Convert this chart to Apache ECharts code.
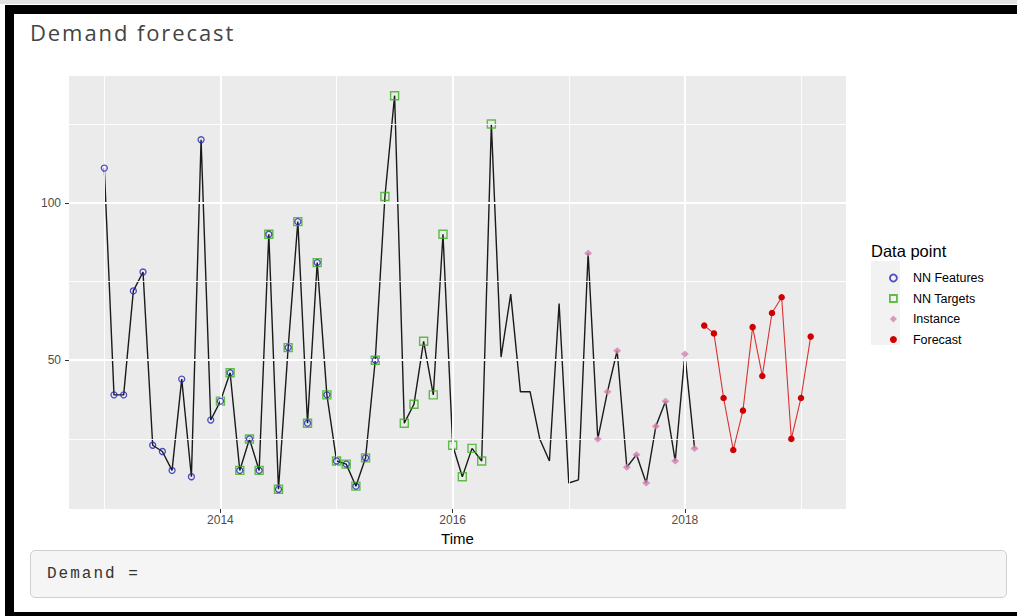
<!DOCTYPE html>
<html>
<head>
<meta charset="utf-8">
<title>Demand forecast</title>
<script src="https://cdn.jsdelivr.net/npm/echarts@6/dist/echarts.min.js"></script>
<style>
  html, body { margin: 0; padding: 0; }
  body { width: 1017px; height: 616px; overflow: hidden; position: relative; background: #fff; }
  .topline { position: absolute; left: 0; top: 0; width: 1017px; height: 4px; background: #e2e2e2; }
  .frame { position: absolute; left: 5px; top: 5px; width: 1100px; height: 611px; box-sizing: border-box;
           border-top: 9px solid #000; border-left: 9px solid #000; border-bottom: 4px solid #000; }
  .title { position: absolute; left: 30px; top: 21px; font-family: "Open Sans", sans-serif; font-size: 22px;
           line-height: 22px; color: #444; letter-spacing: 1.9px; white-space: nowrap; }
  #chart { position: absolute; left: 0; top: 0; width: 1017px; height: 616px; }
  .output { position: absolute; left: 30px; top: 550px; width: 977px; height: 48px; box-sizing: border-box;
            background: #f5f5f5; border: 1px solid #d0d0d0; border-radius: 5px;
            font-family: "Liberation Mono", "DejaVu Sans Mono", monospace; font-size: 16px; letter-spacing: 2px;
            color: #333; line-height: 46px; padding-left: 16px; white-space: pre; }
</style>
</head>
<body>
<div class="topline"></div>
<div class="frame"></div>
<div class="title">Demand forecast</div>
<div id="chart"></div>
<div class="output">Demand =</div>
<script>
// Monthly demand, January 2013 to February 2018
const startYear = 2013;
const demand = [
  111, 39, 39, 72, 78, 23, 21, 15, 44, 13, 120, 31,
  37, 46, 15, 25, 15, 90, 9, 54, 94, 30, 81, 39,
  18, 17, 10, 19, 50, 102, 134, 30, 36, 56, 39, 90,
  23, 13, 22, 18, 125, 51, 71, 40, 40, 25, 18, 68,
  11, 12, 84, 25, 40, 53, 16, 20, 11, 29, 37, 18,
  52, 22
];
// Twelve-month forecast, March 2018 to February 2019
const forecast = [61, 58.5, 38, 21.5, 34, 60.5, 45, 65, 70, 25, 38, 57.5];
const forecastStart = 62;           // month offset of the first forecast value

// Month offsets (inclusive) of each highlighted group
const featureSpan = [0, 28];
const targetSpan = [12, 40];
const instanceSpan = [50, 61];

// Axis ticks and minor grid positions
const xTicks = [2014, 2016, 2018];
const xMinor = [2013, 2015, 2017, 2019];
const yTicks = [50, 100];
const yMinor = [25, 75, 125];

const toYear = m => startYear + m / 12;
const line = demand.map((v, m) => [toYear(m), v]);
const slice = span => line.slice(span[0], span[1] + 1);
const forecastPts = forecast.map((v, i) => [toYear(forecastStart + i), v]);

// ggplot-style 5% expansion of the data range
const allX = line.concat(forecastPts).map(p => p[0]);
const allY = line.concat(forecastPts).map(p => p[1]);
const xLo = Math.min(...allX), xHi = Math.max(...allX);
const yLo = Math.min(...allY), yHi = Math.max(...allY);
const xPad = (xHi - xLo) * 0.05, yPad = (yHi - yLo) * 0.05;

const colors = {
  line: '#1a1a1a',
  feature: '#2222b8',
  target: '#3cae1e',
  instance: '#d47fb0',
  forecast: '#d00000',
  forecastLine: '#dc3030'
};

const gridLine = (axis, values, width) => values.map(v => ({ [axis]: v, lineStyle: { width: width } }));

const chart = echarts.init(document.getElementById('chart'), null, { renderer: 'svg' });
chart.setOption({
  animation: false,
  grid: {
    left: 69, right: 171, top: 76, bottom: 107,
    show: true, backgroundColor: '#ebebeb', borderWidth: 0
  },
  xAxis: {
    type: 'value',
    min: xLo - xPad, max: xHi + xPad,
    name: 'Time', nameLocation: 'middle', nameGap: 20,
    nameTextStyle: { fontFamily: 'Liberation Sans', fontSize: 15, color: '#000' },
    axisLine: { show: false },
    axisTick: { show: true, length: 4, customValues: xTicks, lineStyle: { color: '#333', width: 1 } },
    axisLabel: {
      customValues: xTicks, margin: 5, formatter: v => String(v),
      fontFamily: 'Liberation Sans', fontSize: 12, color: '#4d4d4d'
    },
    splitLine: { show: false }
  },
  yAxis: {
    type: 'value',
    min: yLo - yPad, max: yHi + yPad,
    axisLine: { show: false },
    axisTick: { show: true, length: 4, customValues: yTicks, lineStyle: { color: '#333', width: 1 } },
    axisLabel: {
      customValues: yTicks, margin: 8, formatter: v => String(v),
      fontFamily: 'Liberation Sans', fontSize: 12, color: '#4d4d4d'
    },
    splitLine: { show: false }
  },
  legend: {
    orient: 'vertical', left: 884, top: 266,
    itemWidth: 7, itemHeight: 7, itemGap: 6.5,
    selectedMode: false,
    textStyle: { fontFamily: 'Liberation Sans', fontSize: 12.5, color: '#000', lineHeight: 14, padding: [0, 0, 0, 11] },
    data: [
      { name: 'NN Features', icon: 'circle', itemStyle: { color: 'rgba(0,0,0,0)', borderColor: colors.feature, borderWidth: 1.8 } },
      { name: 'NN Targets', icon: 'rect', itemStyle: { color: 'rgba(0,0,0,0)', borderColor: colors.target, borderWidth: 1.8 } },
      { name: 'Instance', icon: 'diamond', itemStyle: { color: colors.instance, borderWidth: 0 } },
      { name: 'Forecast', icon: 'circle', itemStyle: { color: colors.forecast, borderWidth: 0 } }
    ]
  },
  graphic: [
    { type: 'rect', left: 871, top: 261, shape: { width: 29, height: 84 }, style: { fill: '#f2f2f2' }, z: -1, silent: true },
    { type: 'text', left: 871, top: 242, style: { text: 'Data point', fontFamily: 'Liberation Sans', fontSize: 16.5, fill: '#000' }, silent: true }
  ],
  series: [
    {
      // panel grid lines
      type: 'line', data: [], z: 1, silent: true,
      markLine: {
        silent: true, symbol: 'none', animation: false,
        label: { show: false },
        lineStyle: { color: '#ffffff', type: 'solid', width: 1 },
        emphasis: { disabled: true },
        data: gridLine('xAxis', xMinor, 0.9)
          .concat(gridLine('xAxis', xTicks, 1.9))
          .concat(gridLine('yAxis', yMinor, 0.9))
          .concat(gridLine('yAxis', yTicks, 1.9))
      }
    },
    {
      name: 'Demand', type: 'line', data: line, z: 3,
      showSymbol: false, symbol: 'none',
      lineStyle: { color: colors.line, width: 1.4 }
    },
    {
      name: 'NN Targets', type: 'scatter', data: slice(targetSpan), z: 4,
      symbol: 'rect', symbolSize: 8,
      itemStyle: { color: 'rgba(0,0,0,0)', borderColor: colors.target, borderWidth: 1.4 }
    },
    {
      name: 'NN Features', type: 'scatter', data: slice(featureSpan), z: 5,
      symbol: 'circle', symbolSize: 6,
      itemStyle: { color: 'rgba(0,0,0,0)', borderColor: colors.feature, borderWidth: 1.3 }
    },
    {
      name: 'Instance', type: 'scatter', data: slice(instanceSpan), z: 5,
      symbol: 'diamond', symbolSize: [8, 7],
      itemStyle: { color: colors.instance }
    },
    {
      name: 'Forecast', type: 'line', data: forecastPts, z: 5,
      symbol: 'circle', symbolSize: 6.5, showSymbol: true,
      itemStyle: { color: colors.forecast },
      lineStyle: { color: colors.forecastLine, width: 1.1 }
    }
  ]
});
</script>
</body>
</html>
